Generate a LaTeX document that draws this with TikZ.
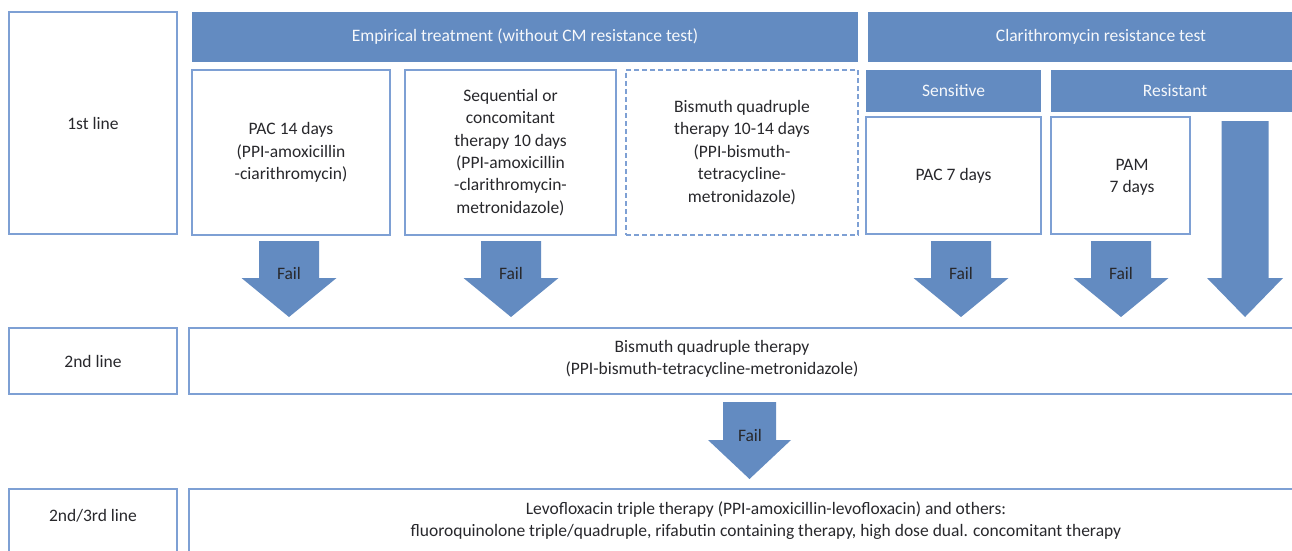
\documentclass[tikz,border=0pt]{standalone}
\usepackage{fontspec}
\setmainfont{Carlito}
\usepackage{xcolor}
\usetikzlibrary{positioning}
\definecolor{hpblue}{RGB}{99,139,193}
\definecolor{hpline}{RGB}{126,160,212}
\definecolor{hptext}{RGB}{40,40,44}

\begin{document}
\begin{tikzpicture}[x=1pt,y=-1pt]
      \tikzstyle{box}=[draw=hpline,line width=1.3pt,fill=white,text=hptext,align=center,inner sep=0pt,font=\fontsize{17.5}{22.4}\selectfont]
      \tikzstyle{dbox}=[box,dash pattern=on 5pt off 3pt]
      \tikzstyle{head}=[fill=hpblue,text=white!94!hpblue,inner sep=0pt,font=\fontsize{17.5}{22.4}\selectfont]
      \tikzstyle{txt}=[text=hptext,align=center,inner sep=0pt,font=\fontsize{17.5}{22.4}\selectfont]
      \clip (0,0) rectangle (1292,551);
      \fill[white] (0,0) rectangle (1292,551);
      % row labels
      \node[box,minimum width=168,minimum height=222] (first) at (93,123) {1st line};
      \node[box,minimum width=168,minimum height=66] (second) at (93,361) {2nd line};
      \node[box,minimum width=168,minimum height=80] (third) at (93,529) {};
      \node[txt] (thirdlbl) at (93,516) {2nd/3rd line};
      % headers
      \node[head,minimum width=666,minimum height=50] (emp) at (525,37) {Empirical treatment (without CM resistance test)};
      \node[head,minimum width=466,minimum height=50] (cmt) at (1101,37) {Clarithromycin resistance test};
      \node[head,minimum width=175,minimum height=42] (sens) at (953.5,91) {Sensitive};
      \node[head,minimum width=248,minimum height=42] (res) at (1175,91) {Resistant};
      % first line regimens
      \node[box,minimum width=198,minimum height=165] (pac14) at (291,152.5) {PAC 14 days\\(PPI-amoxicillin\\-ciarithromycin)};
      \node[box,minimum width=211,minimum height=165] (seq) at (510.5,152.5) {Sequential or\\concomitant\\therapy 10 days\\(PPI-amoxicillin\\-clarithromycin-\\metronidazole)};
      \node[dbox,minimum width=232,minimum height=165] (bq) at (742,152.5) {Bismuth quadruple\\therapy 10-14 days\\(PPI-bismuth-\\tetracycline-\\metronidazole)};
      \node[box,minimum width=175,minimum height=117] (pac7) at (953.5,175.5) {PAC 7 days};
      \node[box,minimum width=139,minimum height=117] (pam) at (1120.5,175.5) {};
      \node[txt] (pamlbl) at (1132,177) {PAM\\7 days};
      % later lines
      \node[box,minimum width=1120,minimum height=66] (bq2) at (749,361) {};
      \node[txt] (bq2lbl) at (712,359) {Bismuth quadruple therapy\\(PPI-bismuth-tetracycline-metronidazole)};
      \node[box,minimum width=1120,minimum height=80] (levo) at (749,529) {};
      \node[txt] (levolbl) at (766,520.5) {Levofloxacin triple therapy (PPI-amoxicillin-levofloxacin) and others:\\fluoroquinolone triple/quadruple, rifabutin containing therapy, high dose dual. concomitant therapy};
      % fail arrows
      \foreach \cx/\nm in {289/fa,511/fb,961/fc,1121/fd} {
        \fill[hpblue] (\cx-30,241) -- (\cx+30,241) -- (\cx+30,278) -- (\cx+47.5,278)
          -- (\cx,317) -- (\cx-47.5,278) -- (\cx-30,278) -- cycle;
        \node[txt] (\nm) at (\cx,273) {Fail};
      }
      \fill[hpblue] (1221.5,121) -- (1268.5,121) -- (1268.5,278) -- (1283,278)
        -- (1245,317) -- (1207,278) -- (1221.5,278) -- cycle;
      \fill[hpblue] (723,402) -- (776,402) -- (776,440) -- (791,440)
        -- (749.5,479) -- (708,440) -- (723,440) -- cycle;
      \node[txt] (fe) at (750,435) {Fail};
\end{tikzpicture}
\end{document}
